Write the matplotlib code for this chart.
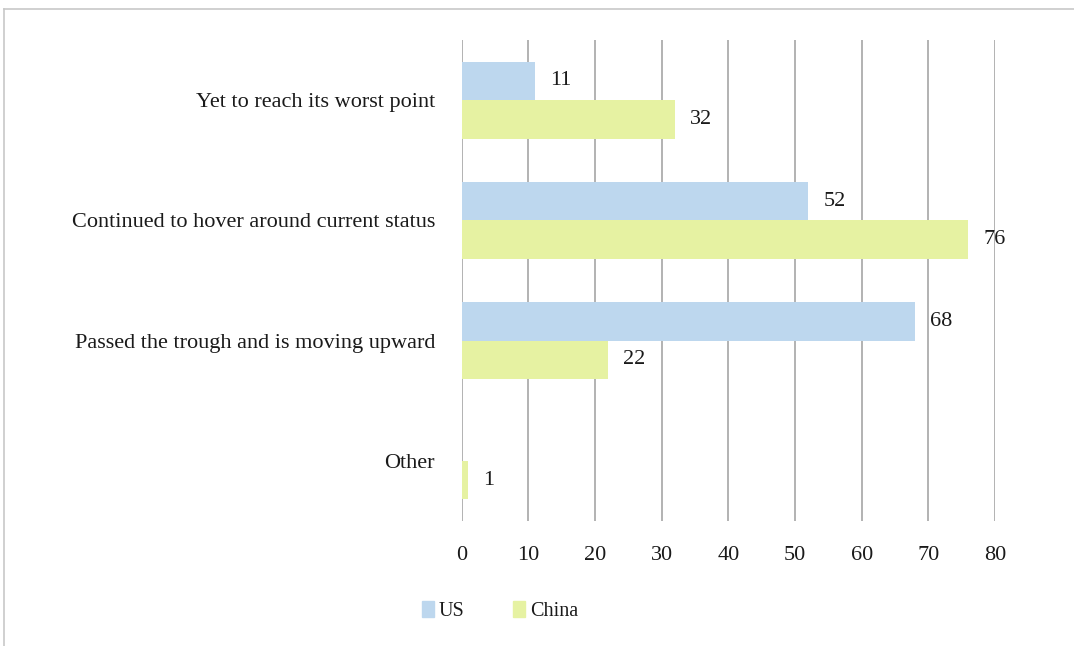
from matplotlib import pyplot as plt
from matplotlib.patches import Patch
from matplotlib.lines import Line2D
import numpy as np

# Survey answers, top to bottom
answers = ["Yet to reach its worst point",
           "Continued to hover around current status",
           "Passed the trough and is moving upward",
           "Other"]
us_share = [11, 52, 68, 0]
china_share = [32, 76, 22, 1]
x_ticks = [0, 10, 20, 30, 40, 50, 60, 70, 80]

us_color = '#bdd7ee'
china_color = '#e6f2a2'
grid_color = '#a6a6a6'
text_color = '#1a1a1a'

plt.rcParams['font.family'] = ['Liberation Serif', 'DejaVu Serif']
fs = 16

fig = plt.figure(figsize=[10.74, 6.46], dpi=100)

# light frame round the chart area
fig.add_artist(Line2D([4/1074, 4/1074], [1-9/646, 0], color='#c8c8c8', lw=1.2,
                      transform=fig.transFigure))
fig.add_artist(Line2D([4/1074, 1], [1-9/646, 1-9/646], color='#c8c8c8', lw=1.2,
                      transform=fig.transFigure))

ax = fig.add_axes([461.5/1074, 1-521/646, 533.5/1074, 481/646])

y = np.arange(len(answers))
h = 0.32
us_bars = ax.barh(y - h/2, us_share, height=h, color=us_color, zorder=2)
cn_bars = ax.barh(y + h/2, china_share, height=h, color=china_color, zorder=2)

ax.bar_label(us_bars, labels=[str(v) if v else "" for v in us_share],
             padding=11, fontsize=fs, color=text_color)
ax.bar_label(cn_bars, labels=[str(v) if v else "" for v in china_share],
             padding=11, fontsize=fs, color=text_color)

ax.set_xlim(0, 80)
ax.set_ylim(len(answers) - 0.5, -0.5)
ax.set_xticks(x_ticks)
ax.set_xticklabels([str(t) for t in x_ticks], fontsize=fs, color=text_color)
ax.set_yticks(y)
ax.set_yticklabels(answers, fontsize=fs, color=text_color)
ax.tick_params(axis='x', length=0, pad=18)
ax.tick_params(axis='y', length=0, pad=19)

ax.grid(axis='x', color=grid_color, lw=1.2, zorder=1)
ax.set_axisbelow(True)
for s in ax.spines.values():
    s.set_visible(False)

handles = [Patch(color=us_color, label='US'), Patch(color=china_color, label='China')]
fig.legend(handles=handles, loc='center', bbox_to_anchor=(500/1074, 1-611/646),
           ncol=2, frameon=False, fontsize=14.5, handlelength=0.6, handleheight=0.85,
           handletextpad=0.25, columnspacing=2.4, labelcolor=text_color)

fig.savefig('out.png', dpi=100)
